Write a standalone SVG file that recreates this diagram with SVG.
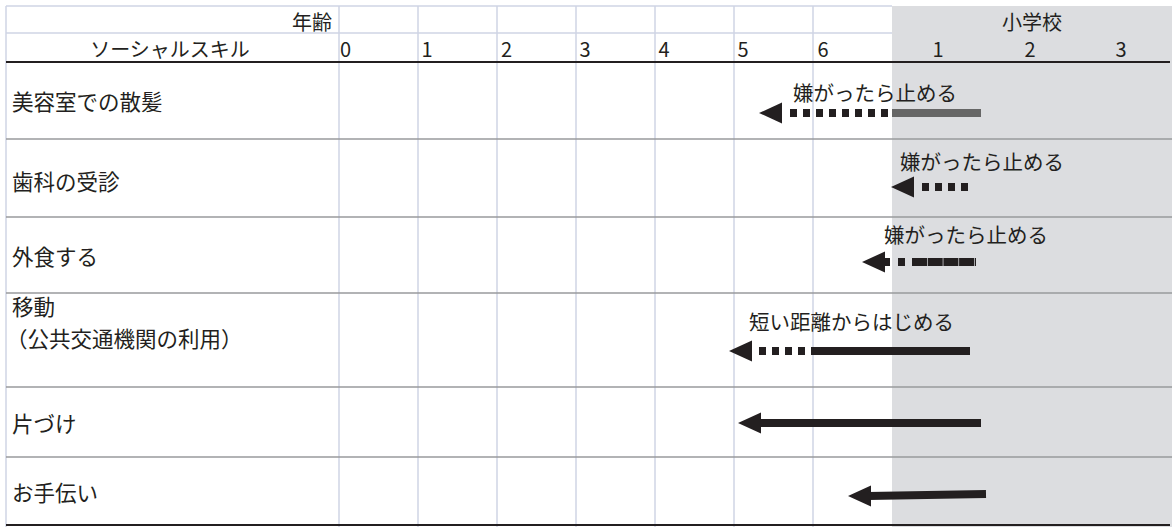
<svg xmlns="http://www.w3.org/2000/svg" width="1172" height="527" viewBox="0 0 1172 527">
<style>
text{font-family:"Noto Sans CJK JP","Noto Sans",sans-serif;fill:#231f20;font-size:20px}
.lbl{font-size:21.5px}
.al{font-size:20.5px}
.mid{text-anchor:middle}
.vl{stroke:#cfd5e4;stroke-width:1.5}
.rs{stroke:#999a9d;stroke-width:1.5}
.bk{stroke:#231f20;stroke-width:1.8}
.sh{stroke:#231f20;stroke-width:8;fill:none}
.dot{stroke-dasharray:7 6}
.hd{fill:#231f20}
</style>
<defs>
<path id="head" d="M0,0 L23,-10.5 L23,10.5 Z"/>
</defs>
<rect x="0" y="0" width="1172" height="527" fill="#ffffff"/>
<rect id="school-band" x="892" y="6" width="280" height="521" fill="#dcdde0"/>
<g id="grid">
<line class="vl" x1="6" y1="6" x2="892" y2="6"/>
<line class="vl" x1="6" y1="33" x2="892" y2="33"/>
<line class="vl" x1="6" y1="6" x2="6" y2="527"/>
<line class="vl" x1="339" y1="6" x2="339" y2="527"/>
<line class="vl" x1="418" y1="6" x2="418" y2="527"/>
<line class="vl" x1="497" y1="6" x2="497" y2="527"/>
<line class="vl" x1="576" y1="6" x2="576" y2="527"/>
<line class="vl" x1="655" y1="6" x2="655" y2="527"/>
<line class="vl" x1="734" y1="6" x2="734" y2="527"/>
<line class="vl" x1="813" y1="6" x2="813" y2="527"/>
<line class="rs" x1="6" y1="139" x2="1172" y2="139"/>
<line class="rs" x1="6" y1="217" x2="1172" y2="217"/>
<line class="rs" x1="6" y1="293" x2="1172" y2="293"/>
<line class="rs" x1="6" y1="387" x2="1172" y2="387"/>
<line class="rs" x1="6" y1="457" x2="1172" y2="457"/>
<line class="bk" x1="6" y1="62" x2="1170" y2="62"/>
<line class="bk" x1="6" y1="525" x2="1170" y2="525"/>
</g>
<g id="header">
<text x="332" y="30" text-anchor="end">年齢</text>
<text x="1032" y="30" class="mid">小学校</text>
<text x="170" y="57" class="mid">ソーシャルスキル</text>
<text x="345.5" y="57" class="mid">0</text>
<text x="427" y="57" class="mid">1</text>
<text x="506.5" y="57" class="mid">2</text>
<text x="585" y="57" class="mid">3</text>
<text x="664" y="57" class="mid">4</text>
<text x="743" y="57" class="mid">5</text>
<text x="823" y="57" class="mid">6</text>
<text x="938" y="57" class="mid">1</text>
<text x="1030" y="57" class="mid">2</text>
<text x="1121" y="57" class="mid">3</text>
</g>
<g id="row-biyoushitsu"><text class="lbl" x="12" y="110">美容室での散髪</text></g>
<g id="row-shika"><text class="lbl" x="12" y="190">歯科の受診</text></g>
<g id="row-gaishoku"><text class="lbl" x="12" y="265">外食する</text></g>
<g id="row-idou"><text class="lbl" x="12" y="315">移動</text><text class="lbl" x="6" y="347">（公共交通機関の利用）</text></g>
<g id="row-katazuke"><text class="lbl" x="12" y="432">片づけ</text></g>
<g id="row-otetsudai"><text class="lbl" x="12" y="501">お手伝い</text></g>
<g id="connectors">
<g id="arrow-1">
<use href="#head" class="hd" x="759" y="113"/>
<line class="sh dot" x1="790" y1="113" x2="892" y2="113"/>
<line x1="892" y1="113" x2="981" y2="113" stroke="#666666" stroke-width="8"/>
<text class="al" x="793" y="101">嫌がったら止める</text>
</g>
<g id="arrow-2">
<use href="#head" class="hd" x="891" y="187"/>
<line class="sh dot" x1="922" y1="187" x2="968" y2="187"/>
<text class="al" x="900" y="170">嫌がったら止める</text>
</g>
<g id="arrow-3">
<use href="#head" class="hd" x="862" y="262"/>
<line class="sh" x1="884" y1="262" x2="890" y2="262"/>
<line class="sh" x1="898" y1="262" x2="905" y2="262"/>
<line class="sh" x1="912" y1="262" x2="976" y2="262" stroke-dasharray="15 0.7"/>
<text class="al" x="884" y="243">嫌がったら止める</text>
</g>
<g id="arrow-4">
<use href="#head" class="hd" x="729" y="351"/>
<line class="sh dot" x1="759" y1="351" x2="806" y2="351"/>
<line class="sh" x1="811" y1="351" x2="970" y2="351"/>
<text class="al" x="749" y="330">短い距離からはじめる</text>
</g>
<g id="arrow-5">
<use href="#head" class="hd" x="738" y="423"/>
<line class="sh" x1="758" y1="423" x2="981" y2="423"/>
</g>
<g id="arrow-6">
<use href="#head" class="hd" x="848" y="496"/>
<line class="sh" x1="868" y1="496" x2="986" y2="494"/>
</g>
</g>
</svg>
